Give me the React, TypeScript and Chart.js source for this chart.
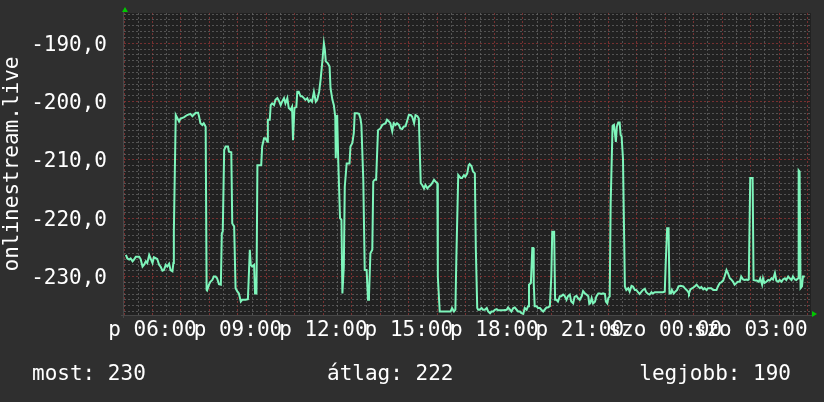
import React, { useEffect, useRef } from 'react';
import { Chart, registerables } from 'chart.js';

Chart.register(...registerables);

// minutes elapsed since 05:00 (Friday)
const minutes = [
  4, 7, 11, 14, 18, 21, 25, 32, 35, 39, 42, 46, 49, 53, 56, 60, 63, 70, 74, 77, 81, 84, 88, 91, 95, 98, 102, 104, 105,
  109, 116, 119, 126, 133, 140, 144, 151, 156, 158, 161, 165, 168, 172, 174, 175, 179, 182, 186, 189, 193, 196, 200,
  204, 206, 208, 211, 214, 219, 221, 226, 228, 232, 235, 239, 242, 246, 249, 256, 261, 265, 267, 270, 274, 276, 279,
  281, 284, 289, 291, 295, 298, 302, 303, 307, 309, 312, 316, 319, 323, 326, 330, 333, 337, 340, 344, 347, 351, 354,
  356, 359, 363, 365, 368, 372, 375, 379, 382, 386, 389, 393, 396, 400, 404, 407, 411, 414, 418, 421, 423, 425, 429,
  433, 435, 439, 442, 445, 446, 449, 451, 455, 458, 460, 463, 465, 469, 472, 475, 477, 481, 484, 486, 491, 495, 498,
  500, 504, 507, 511, 514, 516, 519, 523, 525, 528, 531, 535, 540, 544, 551, 554, 558, 561, 565, 568, 572, 575, 579,
  582, 586, 589, 593, 596, 600, 604, 607, 611, 614, 618, 621, 625, 628, 632, 635, 639, 642, 646, 649, 653, 656, 660,
  661, 665, 670, 677, 684, 688, 691, 695, 698, 700, 704, 709, 712, 716, 719, 723, 726,
  728, 732, 735, 739, 741, 744, 746, 749, 753, 756, 760, 764, 767, 771, 774, 778, 781, 785, 788, 792, 799, 806, 809,
  813, 816, 820, 823, 827, 830, 834, 837, 841, 844, 848, 851, 853, 857, 860, 862, 863, 865, 869, 872, 876, 879, 883,
  886, 890, 893, 897, 900, 902, 906, 908, 911, 914, 918, 921, 925, 928, 932, 935, 939, 942, 946, 949, 953, 956, 960,
  964, 967, 971, 974, 978, 980, 982, 985, 988, 992, 995, 999, 1002, 1006, 1009, 1013, 1015, 1018, 1020, 1023, 1025,
  1029, 1032, 1034, 1036, 1038, 1041, 1044, 1046, 1048, 1051, 1053, 1055, 1058, 1062, 1065, 1069, 1072, 1076, 1079,
  1083, 1086, 1090, 1093, 1097, 1100, 1104, 1107, 1111, 1114, 1118, 1121, 1128, 1135, 1139, 1141, 1144, 1147, 1149,
  1152, 1154, 1158, 1161, 1165, 1168, 1172, 1178, 1181, 1185, 1188, 1190, 1193, 1197, 1202, 1206, 1209, 1213, 1216,
  1220, 1223, 1227, 1230, 1234, 1237, 1241, 1244, 1248, 1251, 1255, 1258, 1262, 1265, 1269, 1272, 1276, 1279, 1283,
  1286, 1290, 1293, 1297, 1300, 1304, 1307, 1311, 1314, 1316, 1319, 1324, 1326, 1330, 1333, 1337, 1340, 1344, 1346,
  1349, 1353, 1357, 1360, 1364, 1367, 1371, 1374, 1378, 1381, 1385, 1388, 1392, 1395, 1399, 1402, 1406, 1409, 1413,
  1416, 1420, 1421, 1423, 1425, 1428, 1430, 1434,
];

const values = [
  -226.3, -226.9, -227.1, -226.9, -227.4, -227.1, -226.6, -226.6, -227.0, -228.3, -228.0, -227.4, -227.7, -226.3,
  -226.9, -227.7, -226.7, -227.0, -228.0, -228.3, -229.0, -228.9, -228.0, -228.3, -227.8, -228.9, -229.1, -227.7,
  -222.3, -202.3, -203.4, -202.9, -202.7, -202.3, -202.1, -202.5, -201.9, -201.9, -202.5, -203.7, -204.0, -203.7,
  -204.3, -232.3, -232.4, -231.4, -230.9, -230.6, -230.0, -230.0, -230.3, -231.3, -231.4, -222.6, -222.3, -208.3,
  -207.7, -207.7, -208.6, -208.7, -220.9, -221.4, -232.0, -232.6, -232.9, -234.3, -234.0, -234.0, -233.9, -225.4,
  -228.0, -228.3, -228.0, -232.9, -232.9, -210.9, -210.9, -210.9, -207.7, -206.3, -206.3, -206.9, -203.1, -203.1,
  -200.6, -200.3, -200.6, -199.7, -199.4, -199.8, -200.6, -200.0, -199.4, -200.3, -199.4, -201.1, -201.4, -200.9,
  -206.6, -201.1, -200.9, -198.3, -198.3, -199.1, -199.1, -199.4, -199.7, -199.4, -200.0, -199.7, -200.0, -198.3,
  -200.0, -199.7, -198.3, -196.3, -192.9, -190.0, -191.1, -193.1, -193.4, -194.0, -197.7, -199.7, -200.6, -202.6,
  -209.7, -202.3, -209.4, -220.0, -220.3, -232.9, -228.3, -214.6, -210.6, -210.6, -210.6, -207.7, -207.1, -205.4,
  -202.0, -202.0, -202.1, -202.9, -204.0, -213.4, -228.9, -228.9, -234.0, -233.4, -226.0, -225.4, -213.7, -213.4,
  -213.4, -204.9, -204.6, -204.0, -203.7, -203.1, -203.4, -203.7, -205.1, -203.7, -204.0, -203.7, -204.0, -204.6,
  -204.7, -204.3, -204.2, -203.4, -202.3, -202.3, -202.6, -203.7, -202.3, -202.5, -202.9, -214.0, -214.3, -214.9,
  -214.3, -214.9, -214.6, -214.3, -214.0, -213.4, -213.7, -214.0, -230.0, -236.0, -236.0, -236.0, -236.0, -236.0,
  -235.4, -236.0, -235.7, -226.9, -212.6, -213.1, -213.1, -212.6, -212.9, -212.3, -210.9,
  -210.7, -211.1, -212.0, -212.3, -225.1, -235.4, -235.7, -235.7, -235.4, -235.7, -235.7, -235.4, -236.0, -236.3,
  -236.0, -236.0, -235.7, -235.6, -235.8, -235.8, -235.8, -235.7, -235.3, -235.7, -236.0, -235.4, -235.3, -235.7,
  -236.0, -236.0, -236.3, -236.4, -235.4, -235.7, -235.1, -231.4, -231.1, -225.1, -225.1, -231.1, -235.1, -235.1,
  -235.4, -235.4, -235.7, -236.0, -235.7, -235.3, -235.3, -235.1, -230.0, -222.3, -222.3, -234.0, -234.0, -234.3,
  -233.4, -233.4, -233.1, -233.3, -234.0, -233.4, -233.1, -234.3, -234.6, -233.5, -233.3, -233.7, -234.0, -233.4,
  -232.5, -232.9, -233.1, -233.4, -234.7, -234.6, -233.7, -234.6, -234.3, -233.4, -232.9, -232.9, -233.0, -232.9,
  -233.0, -234.3, -234.6, -233.7, -233.4, -217.7, -204.2, -204.0, -205.4, -206.9, -204.3, -203.6, -203.6, -205.7,
  -205.9, -209.8, -220.9, -231.7, -232.3, -232.0, -232.6, -231.6, -231.7, -232.3, -232.3, -232.7, -233.0, -232.6,
  -232.3, -232.1, -232.7, -233.0, -233.1, -232.7, -232.9, -232.7, -232.7, -232.7, -232.7, -232.6, -227.7, -221.7,
  -221.7, -232.9, -232.9, -232.3, -232.9, -232.6, -232.3, -231.7, -231.6, -231.7, -232.0, -232.3, -232.6, -232.9,
  -232.2, -232.0, -231.7, -231.4, -231.7, -232.0, -231.8, -232.2, -232.0, -232.3, -232.0, -232.0, -232.0, -232.3,
  -232.3, -232.3, -231.7, -231.1, -231.0, -230.7, -230.0, -228.9, -229.4, -230.3, -230.5, -230.9, -231.4, -231.1,
  -230.9, -230.9, -230.0, -230.5, -230.6, -230.5, -230.6, -230.5, -213.1, -213.1, -230.6, -230.7, -230.7, -230.9,
  -230.3, -231.4, -230.3, -231.1, -230.9, -230.6, -230.7, -230.3, -230.5, -229.4, -230.7, -230.9, -230.6, -230.9,
  -230.5, -230.3, -230.6, -230.0, -230.3, -230.6, -230.0, -230.5, -230.6, -230.3, -211.8, -212.0, -232.0, -231.7,
  -230.0, -230.0,
];

const xTickMinutes = [60, 240, 420, 600, 780, 960, 1140, 1320];
const xTickLabels = ['p 06:00', 'p 09:00', 'p 12:00', 'p 15:00', 'p 18:00', 'p 21:00', 'szo 00:00', 'szo 03:00'];
const yLabelValues = [-190, -200, -210, -220, -230];
const yTitle = 'onlinestream.live';
const legendTexts = ['most: 230', 'átlag: 222', 'legjobb: 190'];

const X_MIN = 0;
const X_MAX = 1447;
const Y_MIN = -236.6;
const Y_MAX = -184.8;

const FONT = '"DejaVu Sans Mono", monospace';
const OUTER_BG = '#2f2f2f';
const PLOT_BG = '#212121';
const GRID_MINOR = 'rgba(105,105,105,0.7)';
const GRID_MAJOR = 'rgba(140,52,52,0.8)';
const LINE_COLOR = '#7ef5bb';
const ARROW = '#00c800';

const decor = {
  id: 'decor',
  beforeDraw(chart: any) {
    const { ctx, chartArea: a } = chart;
    ctx.save();
    ctx.fillStyle = OUTER_BG;
    ctx.fillRect(0, 0, chart.width, chart.height);
    ctx.fillStyle = PLOT_BG;
    ctx.fillRect(a.left - 1, a.top, a.right - a.left + 1, a.bottom - a.top);
    ctx.restore();
  },
  afterDraw(chart: any) {
    const { ctx, chartArea: a } = chart;
    ctx.save();
    // axes
    ctx.strokeStyle = '#474747';
    ctx.lineWidth = 1;
    ctx.beginPath();
    ctx.moveTo(a.left - 3, a.bottom + 0.5);
    ctx.lineTo(a.right + 2, a.bottom + 0.5);
    ctx.moveTo(a.left - 0.5, a.top - 3);
    ctx.lineTo(a.left - 0.5, a.bottom + 3);
    ctx.stroke();
    // arrows
    ctx.fillStyle = ARROW;
    ctx.beginPath();
    ctx.moveTo(a.left + 1, a.top - 6);
    ctx.lineTo(a.left - 2, a.top - 1);
    ctx.lineTo(a.left + 4, a.top - 1);
    ctx.closePath();
    ctx.fill();
    ctx.beginPath();
    ctx.moveTo(a.right + 6, a.bottom - 1);
    ctx.lineTo(a.right + 1, a.bottom - 4);
    ctx.lineTo(a.right + 1, a.bottom + 2);
    ctx.closePath();
    ctx.fill();
    // legend
    ctx.fillStyle = '#ffffff';
    ctx.font = `21px ${FONT}`;
    ctx.textBaseline = 'middle';
    ctx.textAlign = 'left';
    ctx.fillText(legendTexts[0], 32, 375);
    ctx.fillText(legendTexts[1], 327, 375);
    ctx.textAlign = 'right';
    ctx.fillText(legendTexts[2], 791, 375);
    ctx.restore();
  },
};

export default function App() {
  const ref = useRef<HTMLCanvasElement | null>(null);

  useEffect(() => {
    document.body.style.margin = '0';
    document.body.style.background = OUTER_BG;
    if (!ref.current) return;
    const chart = new Chart(ref.current, {
      type: 'line',
      data: {
        datasets: [
          {
            data: minutes.map((m, i) => ({ x: m, y: values[i] })),
            borderColor: LINE_COLOR,
            borderWidth: 2,
            pointRadius: 0,
            tension: 0,
            fill: false,
          },
        ],
      },
      options: {
        animation: false,
        responsive: false,
        devicePixelRatio: 1,
        layout: { padding: { left: 0, right: 13, top: 13, bottom: 0 } },
        plugins: { legend: { display: false }, tooltip: { enabled: false } },
        scales: {
          x: {
            type: 'linear',
            min: X_MIN,
            max: X_MAX,
            afterBuildTicks: (s: any) => {
              const t = [];
              for (let m = 0; m <= 1440; m += 30) t.push({ value: m });
              s.ticks = t;
            },
            afterFit: (s: any) => {
              s.height = 87;
              s.paddingLeft = 0;
              s.paddingRight = 0;
              s.paddingTop = 0;
              s.paddingBottom = 0;
            },
            grid: {
              color: (c: any) => (c.tick && c.tick.value % 60 === 0 ? GRID_MAJOR : GRID_MINOR),
              lineWidth: 1,
              drawTicks: false,
            },
            border: { display: false, dash: [2, 2] },
            ticks: {
              autoSkip: false,
              maxRotation: 0,
              minRotation: 0,
              padding: 3,
              color: '#ffffff',
              font: { family: FONT, size: 21 },
              callback: (v: any) => {
                const i = xTickMinutes.indexOf(Number(v));
                return i >= 0 ? xTickLabels[i] : '';
              },
            },
          },
          y: {
            type: 'linear',
            min: Y_MIN,
            max: Y_MAX,
            afterBuildTicks: (s: any) => {
              const t = [];
              for (let v = -236; v <= -185; v += 1) t.push({ value: v });
              s.ticks = t;
            },
            afterFit: (s: any) => {
              s.width = 124;
              s.paddingLeft = 0;
              s.paddingRight = 0;
              s.paddingTop = 0;
              s.paddingBottom = 0;
            },
            grid: {
              color: (c: any) => (c.tick && c.tick.value % 10 === 0 ? GRID_MAJOR : GRID_MINOR),
              lineWidth: 1,
              drawTicks: false,
            },
            border: { display: false, dash: [2, 2] },
            title: {
              display: true,
              text: yTitle,
              color: '#ffffff',
              font: { family: FONT, size: 21 },
              padding: 0,
            },
            ticks: {
              autoSkip: false,
              padding: 17,
              labelOffset: 2,
              color: '#ffffff',
              font: { family: FONT, size: 21 },
              callback: (v: any) =>
                yLabelValues.includes(Number(v)) ? Number(v).toFixed(1).replace('.', ',') : '',
            },
          },
        },
      },
      plugins: [decor],
    } as any);
    return () => chart.destroy();
  }, []);

  return (
    <div style={{ width: 824, height: 402 }}>
      <canvas ref={ref} width={824} height={402} style={{ display: 'block', width: 824, height: 402 }} />
    </div>
  );
}
